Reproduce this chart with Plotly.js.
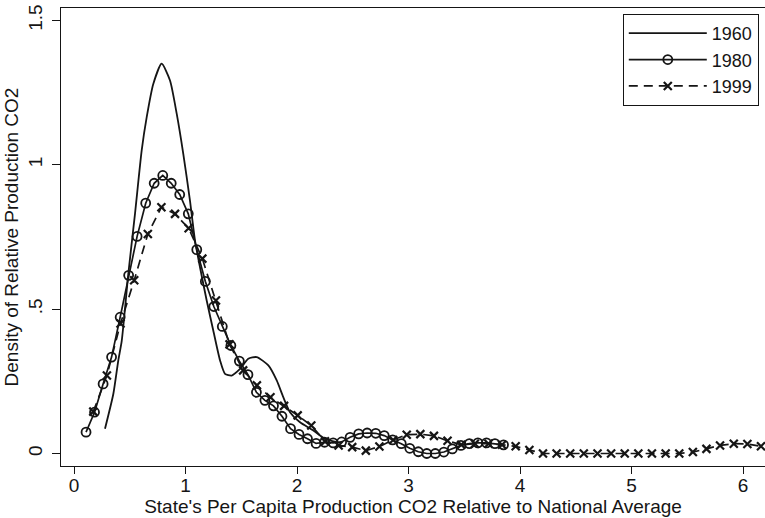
<!DOCTYPE html>
<html>
<head>
<meta charset="utf-8">
<script src="https://cdn.plot.ly/plotly-3.0.1.min.js"></script>
<style>html,body{margin:0;padding:0;background:#fff;}#chart{width:765px;height:518px;}</style>
</head>
<body>
<div id="chart"></div>
<script>
// 1960 (solid line)
const x1960 = [0.278,0.353,0.397,0.428,0.487,0.547,0.607,0.652,0.711,0.786,0.861,0.921,0.980,1.040,1.085,1.130,1.190,1.249,1.310,1.354,1.414,1.489,1.563,1.638,1.743,1.818,1.877,1.937,2.027,2.146,2.250,2.356];
const y1960 = [0.086,0.207,0.322,0.390,0.622,0.830,1.050,1.165,1.280,1.350,1.292,1.177,1.038,0.876,0.738,0.645,0.530,0.426,0.322,0.276,0.270,0.293,0.328,0.334,0.305,0.253,0.195,0.143,0.108,0.080,0.051,0.039];

// 1980 (circles)
const x1980 = [0.108,0.184,0.261,0.337,0.414,0.490,0.566,0.643,0.719,0.796,0.872,0.948,1.025,1.101,1.178,1.254,1.330,1.407,1.483,1.560,1.636,1.712,1.789,1.865,1.942,2.018,2.094,2.171,2.247,2.324,2.400,2.476,2.553,2.629,2.706,2.782,2.858,2.935,3.011,3.088,3.164,3.240,3.317,3.393,3.470,3.546,3.622,3.699,3.775,3.852];
const y1980 = [0.074,0.143,0.241,0.334,0.472,0.617,0.752,0.867,0.936,0.963,0.936,0.897,0.830,0.706,0.596,0.509,0.440,0.374,0.320,0.273,0.212,0.184,0.165,0.129,0.086,0.066,0.051,0.035,0.039,0.037,0.040,0.056,0.068,0.071,0.070,0.062,0.047,0.034,0.018,0.006,0.000,0.000,0.005,0.016,0.028,0.034,0.037,0.037,0.034,0.030];

// 1999 (x markers, dashed)
const x1999 = [0.173,0.295,0.417,0.540,0.662,0.784,0.906,1.028,1.151,1.273,1.395,1.517,1.640,1.762,1.884,2.006,2.128,2.251,2.373,2.495,2.617,2.739,2.862,2.984,3.106,3.228,3.350,3.473,3.595,3.717,3.839,3.961,4.084,4.206,4.328,4.450,4.572,4.695,4.817,4.939,5.061,5.183,5.306,5.428,5.550,5.672,5.794,5.917,6.039,6.161];
const y1999 = [0.145,0.270,0.450,0.600,0.760,0.853,0.830,0.780,0.675,0.530,0.378,0.288,0.236,0.195,0.165,0.132,0.097,0.042,0.028,0.022,0.010,0.024,0.047,0.065,0.067,0.061,0.044,0.030,0.034,0.034,0.030,0.025,0.012,0.000,0.000,0.000,0.000,0.000,0.000,0.000,0.000,0.000,0.000,0.000,0.005,0.016,0.028,0.034,0.033,0.025];

const seriesNames = ['1960','1980','1999'];
const xTickVals = [0,1,2,3,4,5,6];
const xTickText = ['0','1','2','3','4','5','6'];
const yTickVals = [0,0.5,1,1.5];
const yTickText = ['0','.5','1','1.5'];

const ink = '#151515';
const FONT = '"Liberation Sans", Arial, Helvetica, sans-serif';

const traces = [
  {x:x1960, y:y1960, name:seriesNames[0], mode:'lines', type:'scatter',
   line:{color:ink, width:1.8, shape:'spline', smoothing:0.6}},
  {x:x1980, y:y1980, name:seriesNames[1], mode:'lines+markers', type:'scatter',
   line:{color:ink, width:1.7},
   marker:{symbol:'circle-open', size:9, color:ink, line:{width:1.8, color:ink}}},
  {x:x1999, y:y1999, name:seriesNames[2], mode:'lines+markers', type:'scatter',
   line:{color:ink, width:1.7, dash:'9px,6px'},
   marker:{symbol:'x-thin-open', size:8, color:ink, line:{width:2.2, color:ink}}}
];

const layout = {
  width:765, height:518,
  margin:{l:61, r:0, t:8, b:52, pad:0},
  paper_bgcolor:'#fff', plot_bgcolor:'#fff',
  font:{family:FONT, color:ink, size:19},
  showlegend:true,
  legend:{x:0.798, y:0.987, xanchor:'left', yanchor:'top',
    bgcolor:'#fff', bordercolor:ink, borderwidth:1,
    font:{family:FONT, size:18, color:ink}, itemwidth:78},
  xaxis:{range:[-0.1166,6.197], tickvals:xTickVals, ticktext:xTickText,
    showgrid:false, zeroline:false, showline:true, linecolor:ink, linewidth:1, mirror:true,
    ticks:'outside', ticklen:7, tickwidth:1, tickcolor:ink, ticklabelstandoff:-5,
    tickfont:{family:FONT, size:19, color:ink},
    title:{text:"State's Per Capita Production CO2 Relative to National Average",
      font:{family:FONT, size:19, color:ink}, standoff:2},
    automargin:false},
  yaxis:{range:[-0.0433,1.543], tickvals:yTickVals, ticktext:yTickText,
    showgrid:false, zeroline:false, showline:true, linecolor:ink, linewidth:1,
    ticks:'outside', ticklen:8, tickwidth:1, tickcolor:ink, tickangle:-90, ticklabelstandoff:2,
    tickfont:{family:FONT, size:19, color:ink},
    title:{text:'Density of Relative Production CO2',
      font:{family:FONT, size:19, color:ink}, standoff:1},
    automargin:false}
};

Plotly.newPlot('chart', traces, layout, {displayModeBar:false, staticPlot:true});
</script>
</body>
</html>
